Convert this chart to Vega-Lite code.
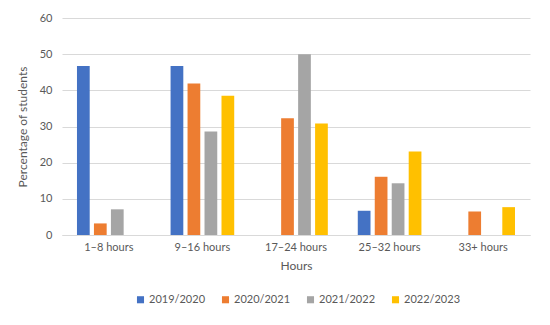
{
  "$schema": "https://vega.github.io/schema/vega-lite/v6.json",
  "autosize": "none",
  "width": 468,
  "height": 217,
  "padding": {"left": 62, "top": 18, "right": 20, "bottom": 90},
  "background": "white",
  "config": {
    "font": "Lato",
    "view": {"stroke": null},
    "axis": {"labelColor": "#595959", "titleColor": "#595959", "labelFont": "Lato", "titleFont": "Lato", "titleFontWeight": "normal"}
  },
  "data": {
    "values": [
      {"hours": "1–8 hours", "year": "2019/2020", "pct": 46.7},
      {"hours": "1–8 hours", "year": "2020/2021", "pct": 3.2},
      {"hours": "1–8 hours", "year": "2021/2022", "pct": 7.1},
      {"hours": "1–8 hours", "year": "2022/2023", "pct": 0},
      {"hours": "9–16 hours", "year": "2019/2020", "pct": 46.7},
      {"hours": "9–16 hours", "year": "2020/2021", "pct": 41.9},
      {"hours": "9–16 hours", "year": "2021/2022", "pct": 28.6},
      {"hours": "9–16 hours", "year": "2022/2023", "pct": 38.5},
      {"hours": "17–24 hours", "year": "2019/2020", "pct": 0},
      {"hours": "17–24 hours", "year": "2020/2021", "pct": 32.3},
      {"hours": "17–24 hours", "year": "2021/2022", "pct": 50},
      {"hours": "17–24 hours", "year": "2022/2023", "pct": 30.8},
      {"hours": "25–32 hours", "year": "2019/2020", "pct": 6.7},
      {"hours": "25–32 hours", "year": "2020/2021", "pct": 16.1},
      {"hours": "25–32 hours", "year": "2021/2022", "pct": 14.3},
      {"hours": "25–32 hours", "year": "2022/2023", "pct": 23.1},
      {"hours": "33+ hours", "year": "2019/2020", "pct": 0},
      {"hours": "33+ hours", "year": "2020/2021", "pct": 6.5},
      {"hours": "33+ hours", "year": "2021/2022", "pct": 0},
      {"hours": "33+ hours", "year": "2022/2023", "pct": 7.7}
    ]
  },
  "mark": {"type": "bar"},
  "encoding": {
    "x": {
      "field": "hours", "type": "nominal",
      "sort": ["1–8 hours", "9–16 hours", "17–24 hours", "25–32 hours", "33+ hours"],
      "scale": {"paddingInner": 0.32, "paddingOuter": 0.16},
      "axis": {"title": "Hours", "labelAngle": 0, "labelFontSize": 11, "titleFontSize": 12, "ticks": false, "domainColor": "#d9d9d9", "labelPadding": 6, "titlePadding": 8}
    },
    "xOffset": {
      "field": "year", "type": "nominal",
      "scale": {"paddingInner": 0.25}
    },
    "y": {
      "field": "pct", "type": "quantitative",
      "scale": {"domain": [0, 60], "nice": false},
      "axis": {"title": "Percentage of students", "values": [0, 10, 20, 30, 40, 50, 60], "labelOverlap": false, "labelFontSize": 11, "titleFontSize": 12, "ticks": false, "domain": false, "gridColor": "#d9d9d9", "labelPadding": 10, "titlePadding": 10}
    },
    "color": {
      "field": "year", "type": "nominal",
      "scale": {"domain": ["2019/2020", "2020/2021", "2021/2022", "2022/2023"], "range": ["#4472C4", "#ED7D31", "#A5A5A5", "#FFC000"]},
      "legend": {"orient": "none", "legendX": 73, "legendY": 276, "direction": "horizontal", "title": null, "symbolType": "square", "symbolSize": 50, "labelFontSize": 11, "labelColor": "#595959", "labelFont": "Lato", "columnPadding": 14, "labelOffset": 3, "symbolStrokeWidth": 0}
    }
  }
}
